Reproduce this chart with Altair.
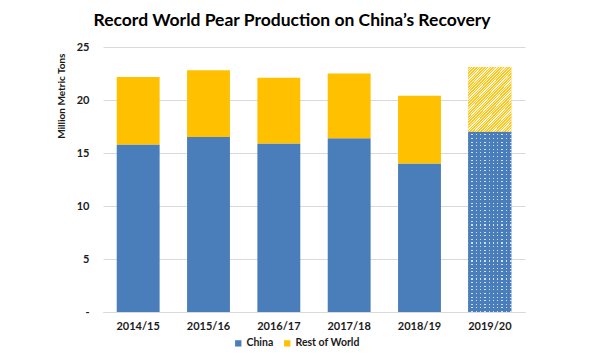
import altair as alt
import pandas as pd

years = ["2014/15", "2015/16", "2016/17", "2017/18", "2018/19", "2019/20"]
china = [15.8, 16.5, 15.9, 16.4, 14.0, 17.0]
rest_of_world = [6.37, 6.3, 6.2, 6.1, 6.4, 6.1]
series = ["China", "Rest of World"]
forecast_year = "2019/20"

BLUE = "#4A7EBB"
YELLOW = "#FFC000"
FONT = "Lato"

rows = []
for y, c, r in zip(years, china, rest_of_world):
    rows.append({"year": y, "series": "China", "start": 0, "end": c})
    rows.append({"year": y, "series": "Rest of World", "start": c, "end": c + r})
df = pd.DataFrame(rows)


def stripes(c_on, c_off, n, duty):
    stops = []
    for i in range(n):
        a = i / n
        b = (i + duty) / n
        c = (i + 1) / n
        stops += [
            {"offset": a, "color": c_on},
            {"offset": b, "color": c_on},
            {"offset": b, "color": c_off},
            {"offset": c, "color": c_off},
        ]
    return stops


x_enc = alt.X(
    "year:N",
    sort=years,
    scale=alt.Scale(paddingInner=0.39, paddingOuter=0.195),
    axis=alt.Axis(
        title=None,
        labelAngle=0,
        labelPadding=8,
        ticks=False,
        domain=True,
        domainColor="#D9D9D9",
        labelFont=FONT,
        labelFontWeight="bold",
        labelFontSize=11,
        labelColor="#1a1a1a",
    ),
)
y_enc = alt.Y(
    "start:Q",
    scale=alt.Scale(domain=[0, 25], nice=False),
    axis=alt.Axis(
        title="Million Metric Tons",
        values=[0, 5, 10, 15, 20, 25],
        labelExpr="datum.value == 0 ? '-' : datum.label",
        domain=False,
        ticks=False,
        grid=True,
        gridColor="#D9D9D9",
        labelPadding=14,
        labelFont=FONT,
        labelFontWeight="bold",
        labelFontSize=11,
        labelColor="#1a1a1a",
        titleFont=FONT,
        titleFontWeight="bold",
        titleFontSize=10,
        titleColor="#1a1a1a",
        titleAnchor="end",
        titleY=6,
        titlePadding=10,
    ),
)

main = alt.Chart(df).mark_bar().encode(
    x=x_enc,
    y=y_enc,
    y2="end:Q",
    color=alt.Color(
        "series:N",
        scale=alt.Scale(domain=series, range=[BLUE, YELLOW]),
        legend=alt.Legend(
            title=None,
            orient="none",
            legendX=130,
            legendY=291,
            direction="horizontal",
            symbolType="square",
            symbolSize=40,
            symbolStrokeWidth=0,
            labelFont=FONT,
            labelFontWeight="bold",
            labelFontSize=10.5,
            labelColor="#1a1a1a",
            labelOffset=3,
            columnPadding=8,
        ),
    ),
)

fc = alt.Chart(df).transform_filter(alt.datum.year == forecast_year)

# China forecast: blue bar with light dots (vertical stripes base + horizontal stripes overlay)
china_base = fc.transform_filter(alt.datum.series == "China").mark_bar(
    color={"gradient": "linear", "x1": 0, "y1": 0, "x2": 1, "y2": 0,
           "stops": stripes(BLUE, "#D2E0F2", 10, 0.7)}
).encode(x=x_enc, y=y_enc, y2="end:Q")
china_rows = fc.transform_filter(alt.datum.series == "China").mark_bar(
    color={"gradient": "linear", "x1": 0, "y1": 0, "x2": 0, "y2": 1,
           "stops": stripes(BLUE, "rgba(74,126,187,0)", 50, 0.7)}
).encode(x=x_enc, y=y_enc, y2="end:Q")

# Rest of World forecast: diagonal yellow/white stripes
row_hatch = fc.transform_filter(alt.datum.series == "Rest of World").mark_bar(
    color={"gradient": "linear", "x1": 0, "y1": 0, "x2": 0.78, "y2": 1.16,
           "stops": stripes("#FFC61A", "#FFF6DC", 40, 0.55)}
).encode(x=x_enc, y=y_enc, y2="end:Q")

chart = (
    alt.layer(main, china_base, china_rows, row_hatch)
    .properties(
        width=422,
        height=265,
        autosize=alt.AutoSizeParams(type="none"),
        padding={"left": 95, "top": 39, "right": 60, "bottom": 40},
        title=alt.TitleParams(
            "Record World Pear Production on China’s Recovery",
            font=FONT,
            fontSize=17.5,
            fontWeight="bold",
            color="#000000",
            anchor="middle",
            dx=-22,
            offset=12,
        ),
    )
    .configure_view(stroke=None)
)

chart.save("out.html", embed_options={"renderer": "svg", "actions": False})
